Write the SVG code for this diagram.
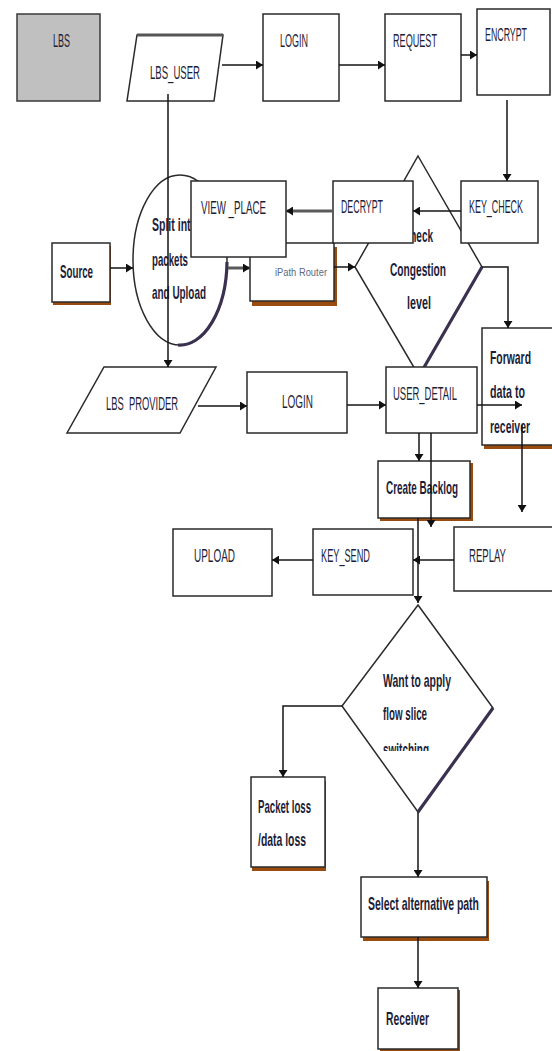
<svg xmlns="http://www.w3.org/2000/svg" width="552" height="1051" viewBox="0 0 552 1051">
  <defs>
    <marker id="arr" markerUnits="userSpaceOnUse" markerWidth="8" markerHeight="9" refX="7" refY="4.5" orient="auto">
      <path d="M0,0 L7,4.5 L0,9 z" fill="#111"/>
    </marker>
    <clipPath id="cutSwitch">
      <rect x="370" y="730" width="80" height="21"/>
    </clipPath>
    <style>
      .box { fill: #fff; stroke: #2a2a2a; stroke-width: 1.5; }
      .gray { fill: #c0c0c0; stroke: #3a3a3a; stroke-width: 1.5; }
      .shadow { fill: #9a4c0e; stroke: none; }
      .heavy { fill: none; stroke: #3a3150; stroke-width: 3.2; }
      .lbl { font-family: "Liberation Sans", Arial, sans-serif; font-size: 19px; fill: #1d1d38; white-space: pre; }
      .bold { font-weight: bold; font-size: 19px; }
      .small { font-size: 11px; fill: #5b6a82; }
      .edge { fill: none; stroke: #151515; stroke-width: 1.5; }
      .arrow { marker-end: url(#arr); }
      .dbl { stroke: #5a5a5a; stroke-width: 3; }
    </style>
  </defs>

  <rect width="552" height="1051" fill="#fff"/>

  <g id="lbs">
    <rect class="gray" x="17" y="14" width="83" height="87"/>
    <text class="lbl" x="53" y="47" textLength="17" lengthAdjust="spacingAndGlyphs">LBS</text>
  </g>

  <g id="lbs-user">
    <polygon class="box" points="137,35 223,35 214,101 127,101"/>
    <line x1="137" y1="35" x2="223" y2="35" stroke="#555" stroke-width="3"/>
    <text class="lbl" x="150" y="79" textLength="50" lengthAdjust="spacingAndGlyphs">LBS_USER</text>
  </g>

  <g id="login">
    <rect class="box" x="263" y="14" width="76" height="87"/>
    <text class="lbl" x="280" y="47" textLength="28" lengthAdjust="spacingAndGlyphs">LOGIN</text>
  </g>

  <g id="request">
    <rect class="box" x="385" y="14" width="76" height="87"/>
    <text class="lbl" x="393" y="47" textLength="44" lengthAdjust="spacingAndGlyphs">REQUEST</text>
  </g>

  <g id="encrypt">
    <rect class="box" x="477" y="9" width="73" height="86"/>
    <text class="lbl" x="485" y="41" textLength="42" lengthAdjust="spacingAndGlyphs">ENCRYPT</text>
  </g>

  <g id="split">
    <ellipse class="box" cx="180" cy="260" rx="47" ry="85"/>
    <path class="heavy" d="M227,262 A47,85 0 0 1 178,345"/>
    <text class="lbl bold" x="152" y="231" textLength="45" lengthAdjust="spacingAndGlyphs">Split into</text>
    <text class="lbl bold" x="152" y="266" textLength="36" lengthAdjust="spacingAndGlyphs">packets</text>
    <text class="lbl bold" x="152" y="299" textLength="54" lengthAdjust="spacingAndGlyphs">and Upload</text>
  </g>

  <g id="source">
    <rect class="shadow" x="53" y="246" width="58" height="59"/>
    <rect class="box" x="52" y="243" width="58" height="59"/>
    <text class="lbl bold" x="60" y="278" textLength="33" lengthAdjust="spacingAndGlyphs">Source</text>
  </g>

  <g id="router">
    <rect class="shadow" x="252" y="247" width="85" height="59"/>
    <rect class="box" x="250" y="243" width="84" height="58"/>
    <text class="lbl small" x="275" y="276" textLength="52" lengthAdjust="spacingAndGlyphs">iPath Router</text>
  </g>

  <g id="congestion">
    <polygon class="box" points="418,156 482,267 419,376 355,267"/>
    <line class="heavy" x1="482" y1="267" x2="419" y2="376"/>
    <text class="lbl bold" x="418" y="242" text-anchor="middle" textLength="30" lengthAdjust="spacingAndGlyphs">Check</text>
    <text class="lbl bold" x="418" y="276" text-anchor="middle" textLength="56" lengthAdjust="spacingAndGlyphs">Congestion</text>
    <text class="lbl bold" x="419" y="309" text-anchor="middle" textLength="24" lengthAdjust="spacingAndGlyphs">level</text>
  </g>

  <g id="decrypt">
    <rect class="box" x="333" y="181" width="80" height="62"/>
    <text class="lbl" x="341" y="213" textLength="42" lengthAdjust="spacingAndGlyphs">DECRYPT</text>
  </g>

  <g id="key-check">
    <rect class="box" x="461" y="181" width="77" height="62"/>
    <text class="lbl" x="469" y="213" textLength="54" lengthAdjust="spacingAndGlyphs">KEY_CHECK</text>
  </g>

  <g id="view-place">
    <rect class="box" x="191" y="181" width="95" height="76"/>
    <text class="lbl" x="201" y="214" textLength="65" lengthAdjust="spacingAndGlyphs">VIEW _PLACE</text>
  </g>

  <g id="forward">
    <rect class="shadow" x="484" y="331" width="80" height="118"/>
    <rect class="box" x="482" y="328" width="80" height="117"/>
    <text class="lbl bold" x="490" y="364" textLength="41" lengthAdjust="spacingAndGlyphs">Forward</text>
    <text class="lbl bold" x="490" y="398" textLength="35" lengthAdjust="spacingAndGlyphs">data to</text>
    <text class="lbl bold" x="490" y="433" textLength="40" lengthAdjust="spacingAndGlyphs">receiver</text>
  </g>

  <g id="lbs-provider">
    <polygon class="box" points="104,367 216,367 180,433 67,433"/>
    <text class="lbl" x="106" y="410" textLength="72" lengthAdjust="spacingAndGlyphs">LBS  PROVIDER</text>
  </g>

  <g id="login-provider">
    <rect class="box" x="247" y="372" width="100" height="61"/>
    <text class="lbl" x="282" y="408" textLength="31" lengthAdjust="spacingAndGlyphs">LOGIN</text>
  </g>

  <g id="user-detail">
    <rect class="box" x="386" y="367" width="91" height="66"/>
    <text class="lbl" x="393" y="400" textLength="64" lengthAdjust="spacingAndGlyphs">USER_DETAIL</text>
  </g>

  <g id="backlog">
    <rect class="shadow" x="380" y="463" width="93" height="58"/>
    <rect class="box" x="378" y="461" width="92" height="57"/>
    <text class="lbl bold" x="386" y="494" textLength="72" lengthAdjust="spacingAndGlyphs">Create Backlog</text>
  </g>

  <g id="upload">
    <rect class="box" x="173" y="529" width="99" height="67"/>
    <text class="lbl" x="194" y="562" textLength="41" lengthAdjust="spacingAndGlyphs">UPLOAD</text>
  </g>

  <g id="key-send">
    <rect class="box" x="313" y="529" width="100" height="66"/>
    <text class="lbl" x="321" y="562" textLength="49" lengthAdjust="spacingAndGlyphs">KEY_SEND</text>
  </g>

  <g id="replay">
    <rect class="box" x="454" y="527" width="110" height="64"/>
    <text class="lbl" x="469" y="562" textLength="37" lengthAdjust="spacingAndGlyphs">REPLAY</text>
  </g>

  <g id="flow-slice">
    <polygon class="box" points="418,605 493,708 418,812 342,706"/>
    <line class="heavy" x1="493" y1="708" x2="418" y2="812"/>
    <text class="lbl bold" x="383" y="687" textLength="68" lengthAdjust="spacingAndGlyphs">Want to apply</text>
    <text class="lbl bold" x="383" y="720" textLength="44" lengthAdjust="spacingAndGlyphs">flow slice</text>
    <text class="lbl bold" x="383" y="756" textLength="46" lengthAdjust="spacingAndGlyphs" clip-path="url(#cutSwitch)">switching</text>
  </g>

  <g id="packet-loss">
    <rect class="shadow" x="252" y="781" width="74" height="90"/>
    <rect class="box" x="251" y="777" width="74" height="90"/>
    <text class="lbl bold" x="258" y="813" textLength="53" lengthAdjust="spacingAndGlyphs">Packet loss</text>
    <text class="lbl bold" x="258" y="846" textLength="48" lengthAdjust="spacingAndGlyphs">/data loss</text>
  </g>

  <g id="alt-path">
    <rect class="shadow" x="363" y="881" width="126" height="60"/>
    <rect class="box" x="361" y="877" width="126" height="60"/>
    <text class="lbl bold" x="368" y="910" textLength="111" lengthAdjust="spacingAndGlyphs">Select alternative path</text>
  </g>

  <g id="receiver">
    <rect class="shadow" x="380" y="990" width="80" height="61"/>
    <rect class="box" x="378" y="988" width="80" height="61"/>
    <text class="lbl bold" x="386" y="1025" textLength="43" lengthAdjust="spacingAndGlyphs">Receiver</text>
  </g>

  <g id="connectors">
    <line class="edge arrow" x1="222" y1="65" x2="263" y2="65"/>
    <line class="edge arrow" x1="339" y1="65" x2="385" y2="65"/>
    <line class="edge arrow" x1="461" y1="55" x2="477" y2="55"/>
    <line class="edge arrow" x1="507" y1="100" x2="507" y2="181"/>
    <line class="edge arrow" x1="461" y1="211" x2="413" y2="211"/>
    <line class="edge dbl arrow" x1="333" y1="211" x2="286" y2="211"/>
    <line class="edge arrow" x1="168" y1="94" x2="168" y2="367"/>
    <line class="edge arrow" x1="110" y1="268" x2="133" y2="268"/>
    <line class="edge dbl arrow" x1="228" y1="268" x2="250" y2="268"/>
    <line class="edge arrow" x1="334" y1="267" x2="355" y2="267"/>
    <polyline class="edge arrow" points="482,267 508,267 508,328"/>
    <line class="edge arrow" x1="198" y1="406" x2="247" y2="406"/>
    <line class="edge arrow" x1="347" y1="405" x2="386" y2="405"/>
    <line class="edge arrow" x1="477" y1="405" x2="522" y2="405"/>
    <line class="edge arrow" x1="522" y1="425" x2="522" y2="512"/>
    <line class="edge arrow" x1="419" y1="433" x2="419" y2="461"/>
    <line class="edge arrow" x1="431" y1="433" x2="431" y2="527"/>
    <line class="edge arrow" x1="418" y1="518" x2="418" y2="603"/>
    <line class="edge arrow" x1="454" y1="560" x2="413" y2="560"/>
    <line class="edge arrow" x1="313" y1="560" x2="272" y2="560"/>
    <polyline class="edge arrow" points="342,706 283,706 283,777"/>
    <line class="edge arrow" x1="418" y1="812" x2="418" y2="877"/>
    <line class="edge arrow" x1="418" y1="937" x2="418" y2="988"/>
  </g>
</svg>
